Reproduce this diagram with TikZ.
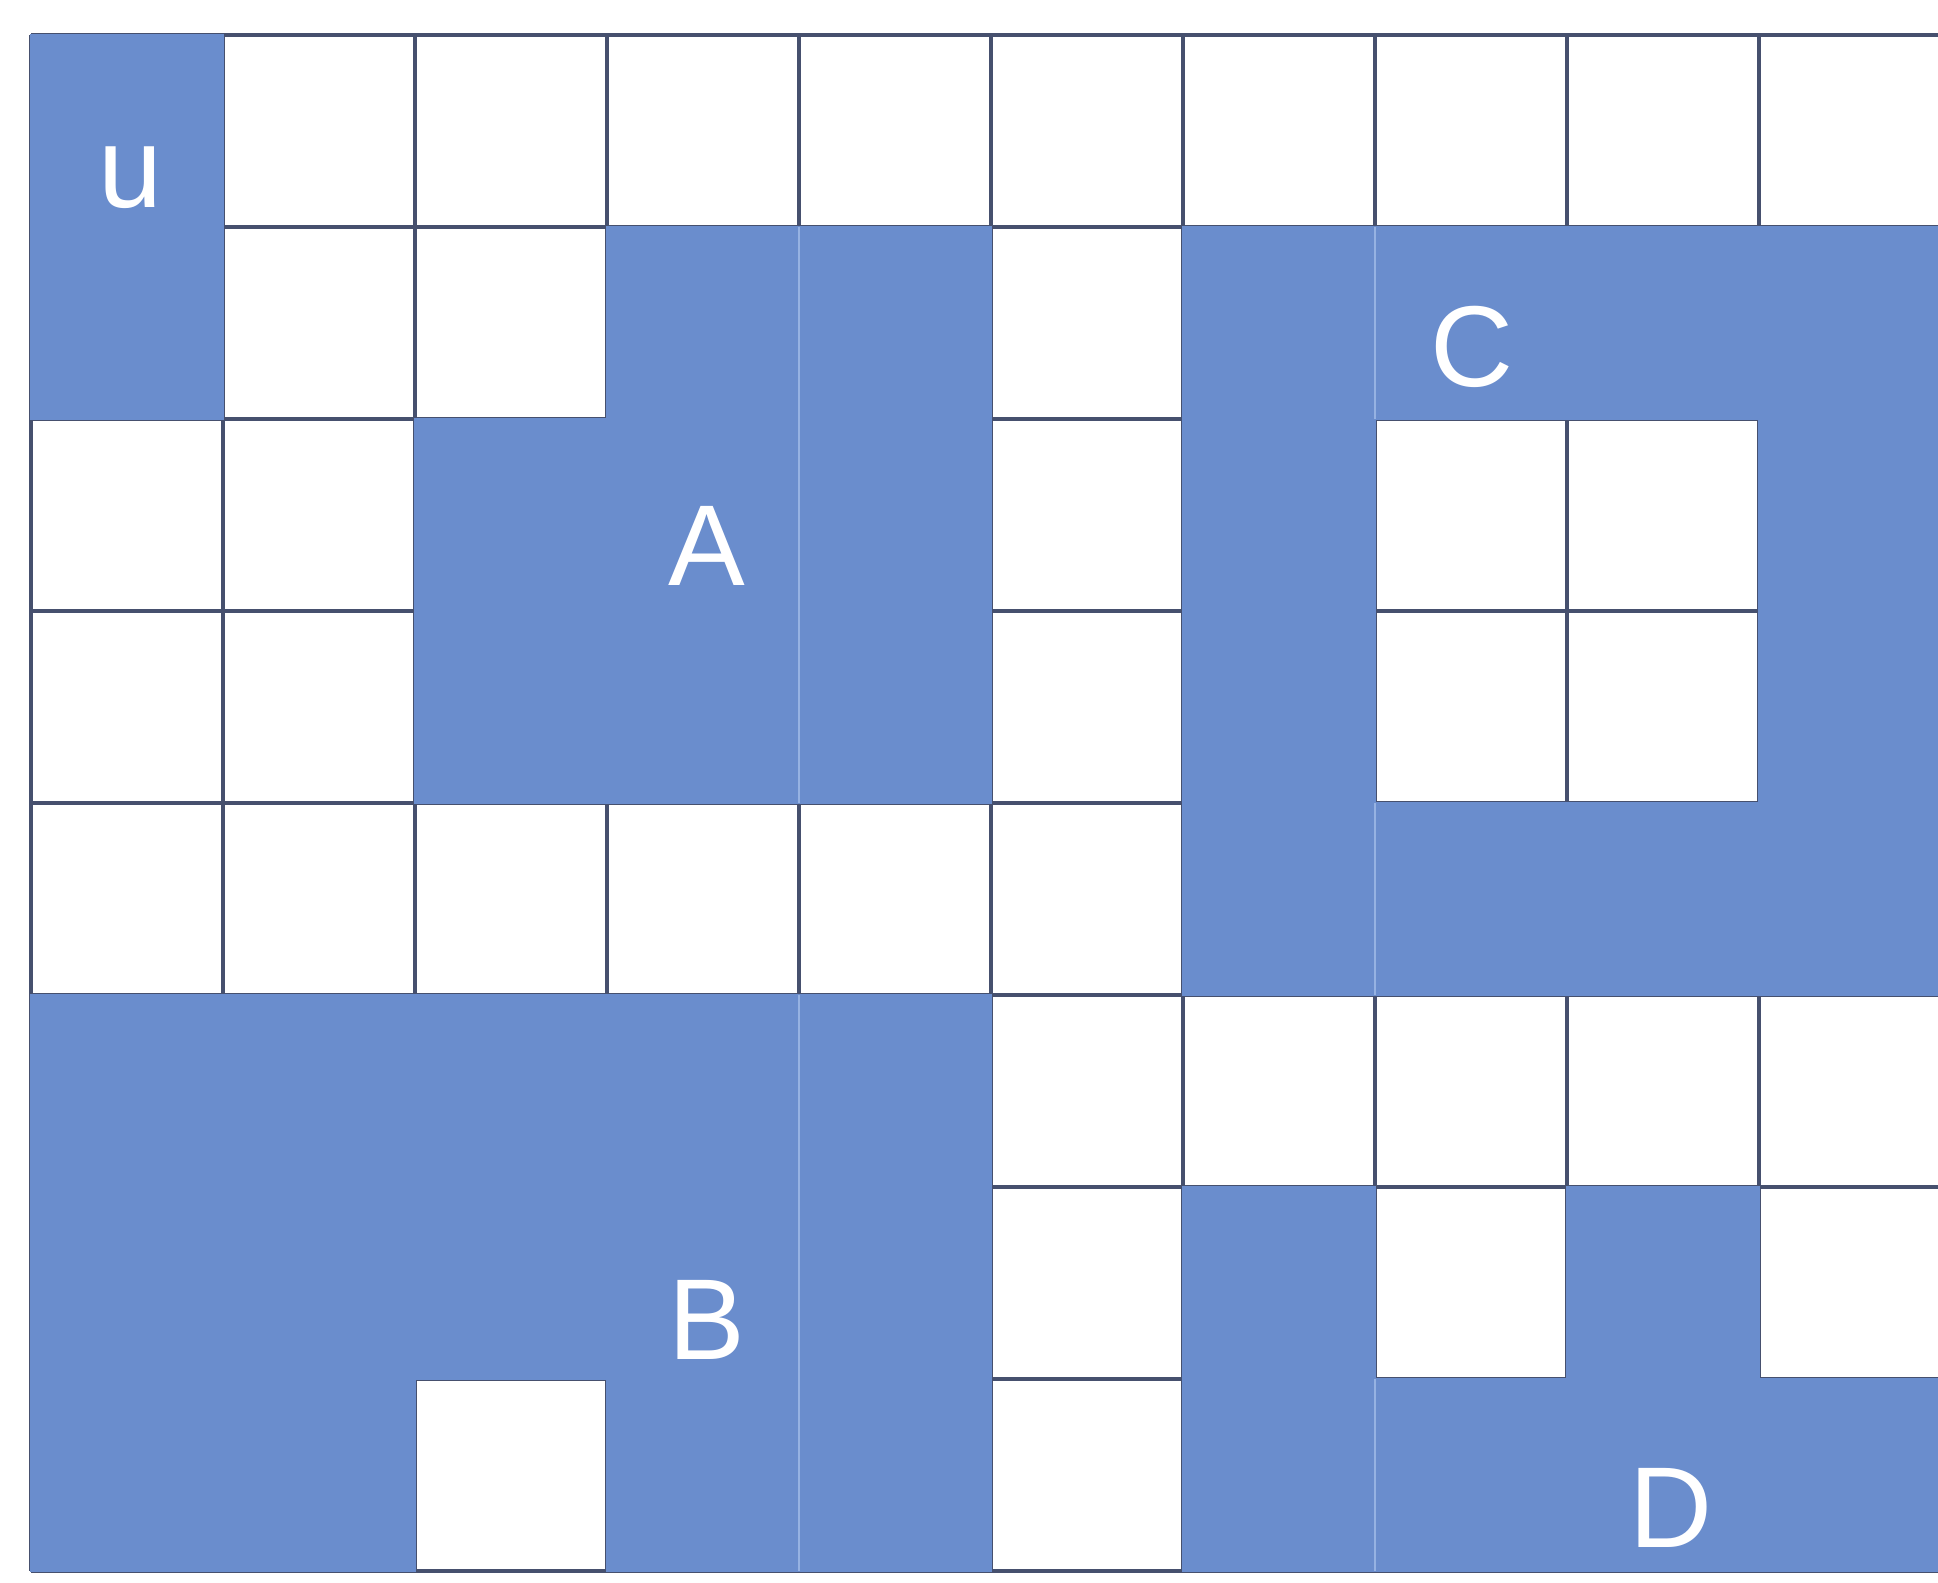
\documentclass[tikz,border=0pt]{standalone}
\usepackage{fontspec}
\setmainfont{Liberation Sans}
\definecolor{cellblue}{RGB}{106,141,205}
\definecolor{gridgray}{RGB}{70,80,110}
\definecolor{seamblue}{RGB}{150,178,226}

\begin{document}
\begin{tikzpicture}[x=76.8pt,y=76.8pt,
  gridline/.style={draw=gridgray,line width=1.4pt},
  seam/.style={draw=seamblue,line width=0.9pt},
  letter/.style={text=white,font=\fontsize{46}{46}\selectfont,anchor=base,inner sep=0pt}]
  \useasboundingbox (-0.1615,-0.0625) rectangle (9.932,8.182);
  \clip (-0.1615,-0.0625) rectangle (9.932,8.182);
  \fill[white] (-0.1615,-0.0625) rectangle (9.932,8.182);
  \foreach \k in {0,...,8}
    \draw[gridline] (0,\k) -- (10,\k);
  \foreach \k in {0,...,10}
    \draw[gridline] (\k,0) -- (\k,8);
  \foreach \r/\cols in {0/{0},1/{0,3,4,6,7,8,9},2/{2,3,4,6,9},3/{2,3,4,6,9},
                        4/{6,7,8,9},5/{0,1,2,3,4},6/{0,1,2,3,4,6,8},7/{0,1,3,4,6,7,8,9}} {
    \foreach \c in \cols {
      \fill[cellblue] ({\c-0.004},{7-\r-0.004}) rectangle +(1.008,1.008);
    }
  }
  \foreach \x/\ya/\yb in {4/4/7,4/0/3,7/6/7,7/3/4,7/0/1}
    \draw[seam] (\x,\ya) -- (\x,\yb);
  \node[letter] (u) at (0.52,7.10) {u};
  \node[letter] (A) at (3.52,5.135) {A};
  \node[letter] (C) at (7.505,6.17) {C};
  \node[letter] (B) at (3.52,1.10) {B};
  \node[letter] (D) at (8.54,0.12) {D};
\end{tikzpicture}
\end{document}
